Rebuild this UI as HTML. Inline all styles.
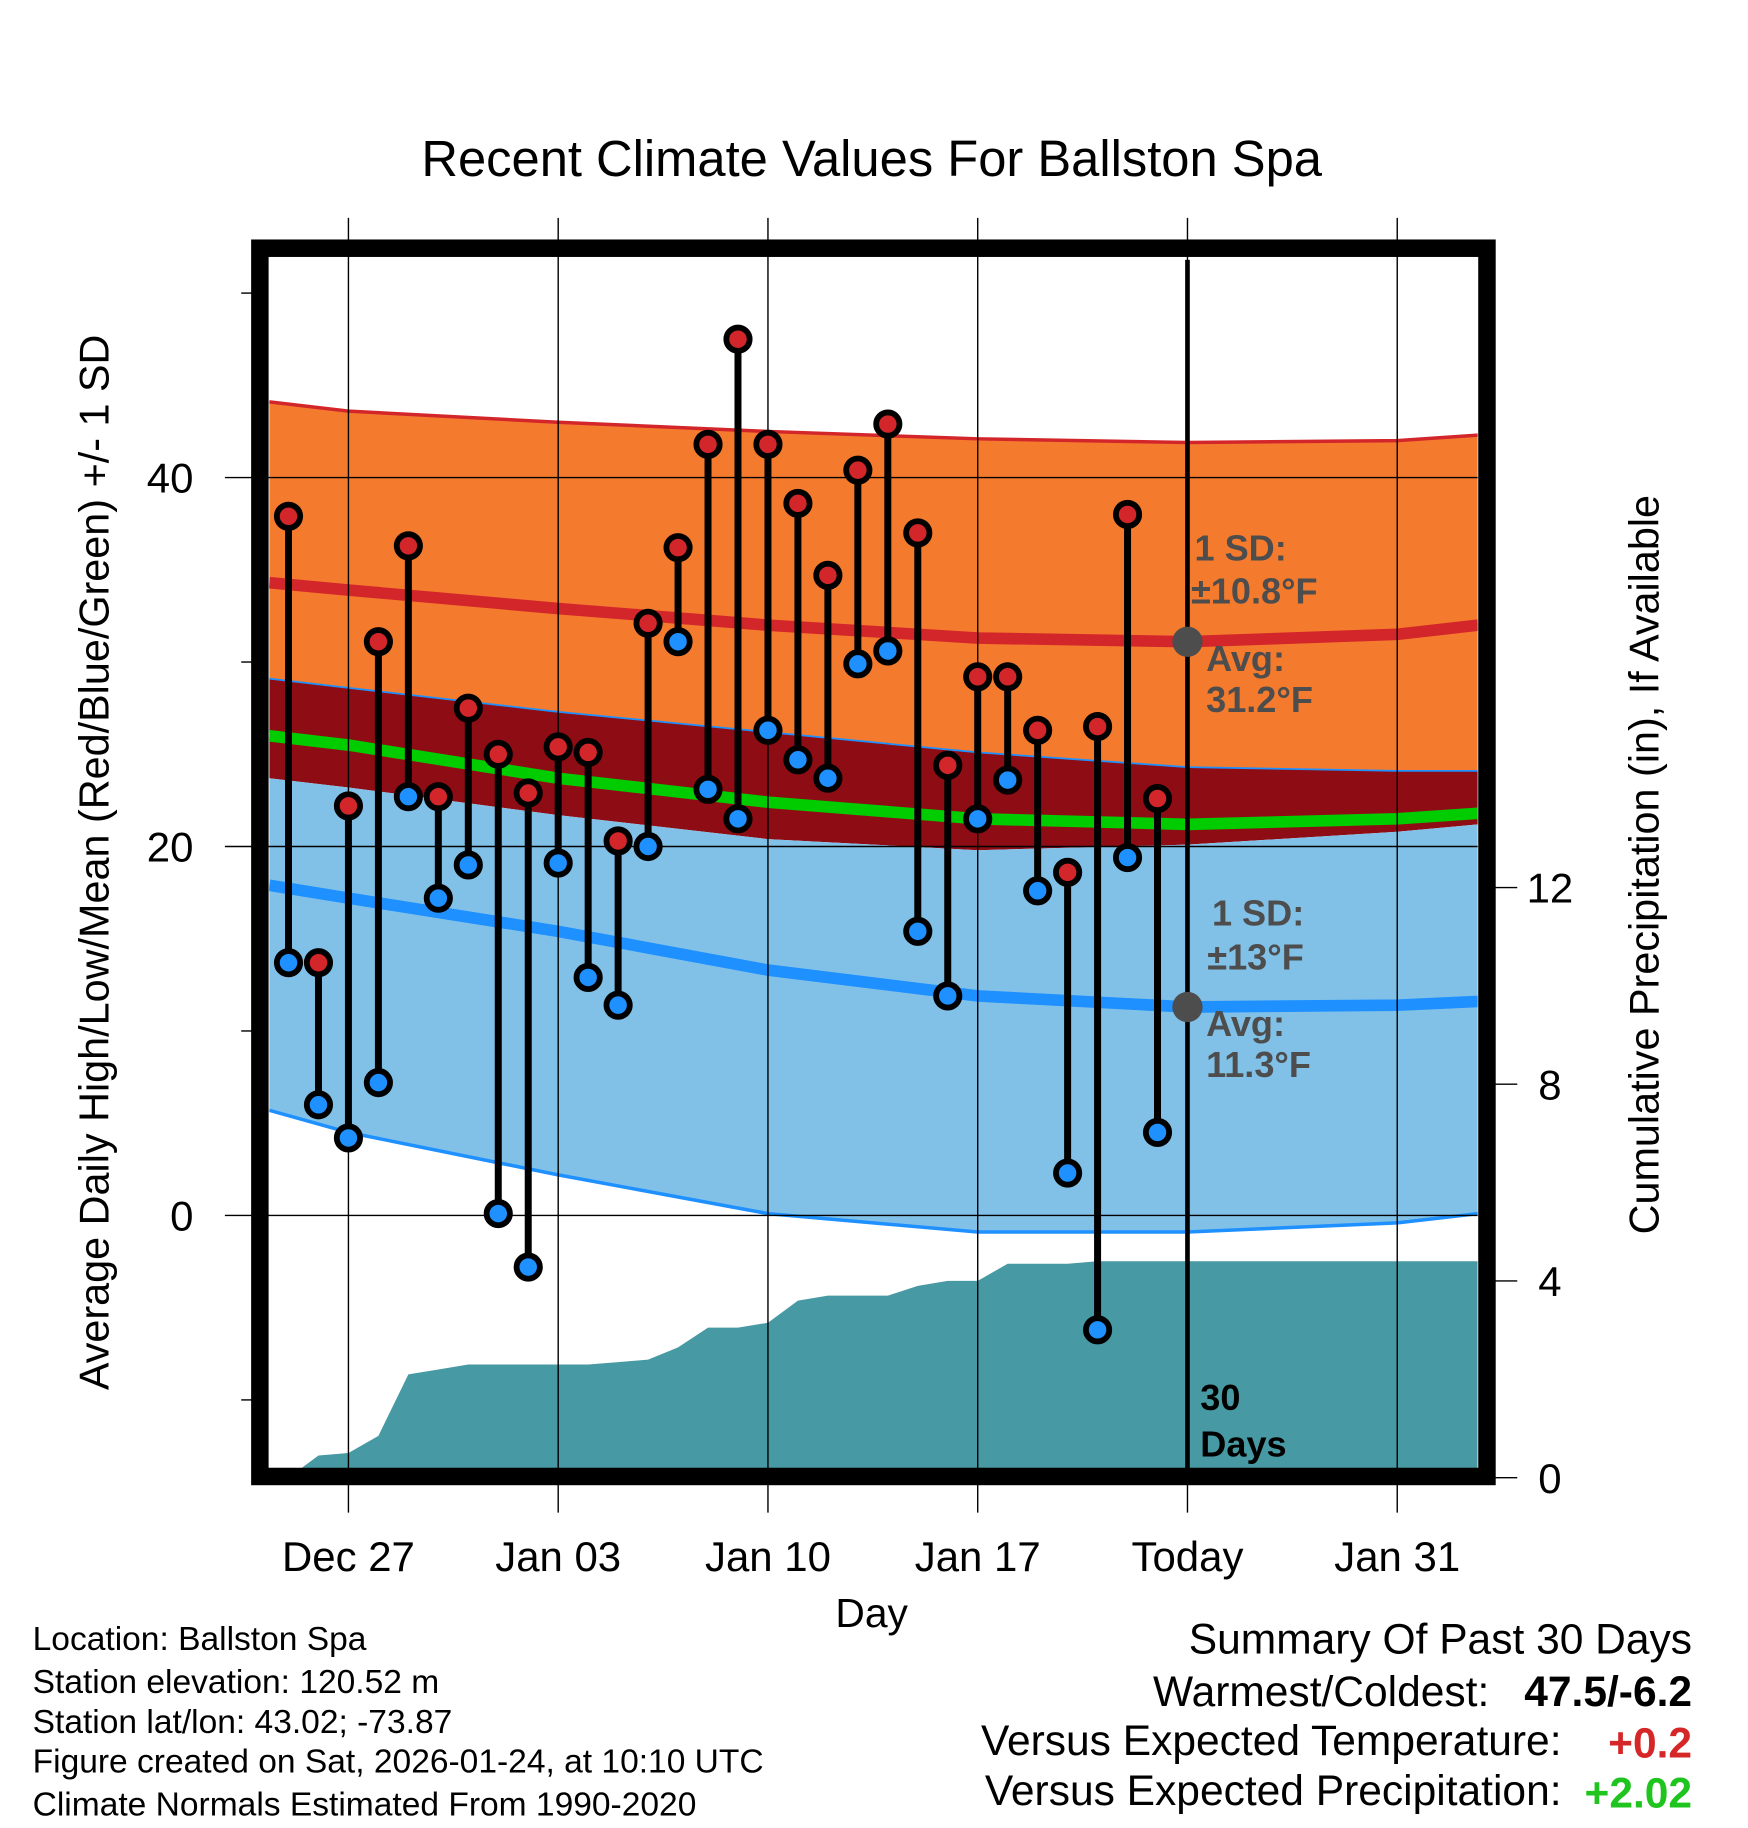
<!DOCTYPE html>
<html><head><meta charset="utf-8"><style>
html,body{margin:0;padding:0;background:#fff;}
svg{display:block;font-family:"Liberation Sans",Arial,sans-serif;}
</style></head><body>
<svg id="chart" width="1748" height="1828" viewBox="0 0 1500 1568.65" xmlns="http://www.w3.org/2000/svg">
<text x="748" y="151" font-size="43.5" text-anchor="middle">Recent Climate Values For Ballston Spa</text>
<g id="layers"></g>
<text transform="translate(93,740) rotate(-90)" font-size="35.5" text-anchor="middle">Average Daily High/Low/Mean (Red/Blue/Green) +/- 1 SD</text>
<text transform="translate(1423,742) rotate(-90)" font-size="35.5" text-anchor="middle">Cumulative Precipitation (in), If Available</text>
<text x="748" y="1396" font-size="35" text-anchor="middle">Day</text>
<g font-size="28.8">
<text x="28" y="1416">Location: Ballston Spa</text>
<text x="28" y="1453">Station elevation: 120.52 m</text>
<text x="28" y="1487">Station lat/lon: 43.02; -73.87</text>
<text x="28" y="1521">Figure created on Sat, 2026-01-24, at 10:10 UTC</text>
<text x="28" y="1558">Climate Normals Estimated From 1990-2020</text>
</g>
<g font-size="36.5" text-anchor="end">
<text x="1452" y="1419">Summary Of Past 30 Days</text>
<text x="1278" y="1464">Warmest/Coldest:</text>
<text x="1452" y="1464" font-weight="bold">47.5/-6.2</text>
<text x="1340" y="1506">Versus Expected Temperature:</text>
<text x="1452" y="1508" font-weight="bold" fill="#d62728">+0.2</text>
<text x="1340" y="1549">Versus Expected Precipitation:</text>
<text x="1452" y="1551" font-weight="bold" fill="#1fc41f">+2.02</text>
</g>
</svg>
<script>
// normals sampled at days (day 0 = Dec 27)
const normDays = [-2.64, 0, 7, 14, 21, 28, 35, 37.7];
const hiPlusSD = [44.1, 43.6, 43.0, 42.5, 42.1, 41.9, 42.0, 42.3];
const avgHigh = [34.3, 33.9, 32.9, 32.0, 31.3, 31.1, 31.5, 32.0];
const hiMinusSD = [29.1, 28.6, 27.3, 26.2, 25.1, 24.3, 24.1, 24.1];
const meanTemp = [26.0, 25.5, 23.7, 22.4, 21.5, 21.2, 21.5, 21.8];
const loPlusSD = [23.7, 23.2, 21.7, 20.4, 19.8, 20.1, 20.8, 21.2];
const avgLow = [17.9, 17.2, 15.4, 13.3, 11.9, 11.3, 11.4, 11.6];
const loMinusSD = [5.7, 4.5, 2.2, 0.1, -0.9, -0.9, -0.4, 0.1];
// observations, days -2..27
const obsDays = [-2,-1,0,1,2,3,4,5,6,7,8,9,10,11,12,13,14,15,16,17,18,19,20,21,22,23,24,25,26,27];
const highs = [37.9,13.7,22.2,31.1,36.3,22.7,27.5,25.0,22.9,25.4,25.1,20.3,32.1,36.2,41.8,47.5,41.8,38.6,34.7,40.4,42.9,37.0,24.4,29.2,29.2,26.3,18.6,26.5,38.0,22.6];
const lows = [13.7,6.0,4.2,7.2,22.7,17.2,19.0,0.1,-2.8,19.1,12.9,11.4,20.0,31.1,23.1,21.5,26.3,24.7,23.7,29.9,30.6,15.4,11.9,21.5,23.6,17.6,2.3,-6.2,19.4,4.5];
const precip = [0,0.45,0.5,0.85,2.1,2.2,2.3,2.3,2.3,2.3,2.3,2.35,2.4,2.65,3.05,3.05,3.15,3.6,3.7,3.7,3.7,3.9,4.0,4.0,4.35,4.35,4.35,4.4,4.4,4.4];
const xTickDays = [0,7,14,21,28,35];
const xTickLabels = ["Dec 27","Jan 03","Jan 10","Jan 17","Today","Jan 31"];
const yTicks = [0,20,40];
const yMinor = [-10,10,30,50];
const pTicks = [0,4,8,12];

const L=231,R=1268,T=223,B=1260;
const X=d=>299+d*180/7;
const Y=t=>1043-t*15.83;
const P=p=>1268-p*42.2;
const NS='http://www.w3.org/2000/svg';
const g=document.getElementById('layers');
function mk(tag,attrs,parent){const e=document.createElementNS(NS,tag);for(const k in attrs)e.setAttribute(k,attrs[k]);(parent||g).appendChild(e);return e;}
const clip=mk('clipPath',{id:'pc'});mk('rect',{x:L,y:T,width:R-L,height:B-T},clip);
const plot=mk('g',{'clip-path':'url(#pc)'});
function line(arr){return normDays.map((d,i)=>X(d)+','+Y(arr[i])).join(' ');}
function band(a,b){return line(a)+' '+normDays.slice().reverse().map((d,i)=>X(d)+','+Y(b[b.length-1-i])).join(' ');}
let e;
e=mk('polygon',{points:band(hiPlusSD,hiMinusSD),fill:'#f47b2e'},plot);

e=mk('polygon',{points:band(hiMinusSD,loPlusSD),fill:'#8e0d14'},plot);

e=mk('polygon',{points:band(loPlusSD,loMinusSD),fill:'#82c1e7'},plot);

e=mk('polyline',{points:line(hiPlusSD),fill:'none',stroke:'#d3262a','stroke-width':3},plot);

e=mk('polyline',{points:line(hiMinusSD),fill:'none',stroke:'#1e90ff','stroke-width':1.5},plot);

e=mk('polyline',{points:line(loMinusSD),fill:'none',stroke:'#1e90ff','stroke-width':3},plot);

e=mk('polyline',{points:line(meanTemp),fill:'none',stroke:'#00cc00','stroke-width':10},plot);

e=mk('polyline',{points:line(avgHigh),fill:'none',stroke:'#d3262a','stroke-width':10},plot);

e=mk('polyline',{points:line(avgLow),fill:'none',stroke:'#1e90ff','stroke-width':10},plot);

// precip area
let pts=[X(obsDays[0]+0.5)+','+B];
obsDays.forEach((d,i)=>pts.push(X(d)+','+P(precip[i])));
pts.push(R+','+P(precip[precip.length-1]),R+','+B);
e=mk('polygon',{points:pts.join(' '),fill:'#4799a3'},plot);

// grid
xTickDays.forEach((d,i)=>{
  const gl=mk('line',{x1:X(d),x2:X(d),y1:187,y2:1298,stroke:'#000','stroke-width':1.2});
  
  const t=mk('text',{x:X(d),y:1348,'font-size':36,'text-anchor':'middle'});t.textContent=xTickLabels[i];
  
});
yTicks.forEach(v=>{
  const gl=mk('line',{x1:193,x2:R,y1:Y(v),y2:Y(v),stroke:'#000','stroke-width':1.2});
  
  const t=mk('text',{x:166,y:Y(v)+13,'font-size':36,'text-anchor':'end'});t.textContent=v;
  
});
yMinor.forEach(v=>{
  const gl=mk('line',{x1:207,x2:217,y1:Y(v),y2:Y(v),stroke:'#000','stroke-width':1.2});
  
});
pTicks.forEach(v=>{
  const gl=mk('line',{x1:1283,x2:1302,y1:P(v),y2:P(v),stroke:'#000','stroke-width':1.2});
  
  const t=mk('text',{x:1330,y:P(v)+13,'font-size':36,'text-anchor':'middle'});t.textContent=v;
  
});
// today line
e=mk('line',{x1:X(28),x2:X(28),y1:T,y2:B,stroke:'#000','stroke-width':4});

// stems and markers
obsDays.forEach((d,i)=>{
  const s=mk('line',{x1:X(d),x2:X(d),y1:Y(highs[i]),y2:Y(lows[i]),stroke:'#000','stroke-width':6});
  
});
obsDays.forEach((d,i)=>{
  const h=mk('circle',{cx:X(d),cy:Y(highs[i]),r:10,fill:'#d3262a',stroke:'#000','stroke-width':5});
  
  const l=mk('circle',{cx:X(d),cy:Y(lows[i]),r:10,fill:'#1e90ff',stroke:'#000','stroke-width':5});
  
});
// today dots
e=mk('circle',{cx:X(28),cy:Y(avgHigh[5]),r:13,fill:'#4d4d4d'});

e=mk('circle',{cx:X(28),cy:Y(avgLow[5]),r:13,fill:'#4d4d4d'});

// annotations
const ann=[['1 SD:',1025,481,'#4d4d4d'],['±10.8°F',1022,518,'#4d4d4d'],['Avg:',1035,576,'#4d4d4d'],['31.2°F',1035,611,'#4d4d4d'],
['1 SD:',1040,794,'#4d4d4d'],['±13°F',1036,832,'#4d4d4d'],['Avg:',1035,889,'#4d4d4d'],['11.3°F',1035,924,'#4d4d4d'],
['30',1030,1210,'#000'],['Days',1030,1250,'#000']];
ann.forEach(a=>{const t=mk('text',{x:a[1],y:a[2],'font-size':31,'font-weight':'bold',fill:a[3]});t.textContent=a[0];
});
// frame
e=mk('rect',{x:223,y:213,width:1053,height:1054,fill:'none',stroke:'#000','stroke-width':15});

</script>
</body></html>
